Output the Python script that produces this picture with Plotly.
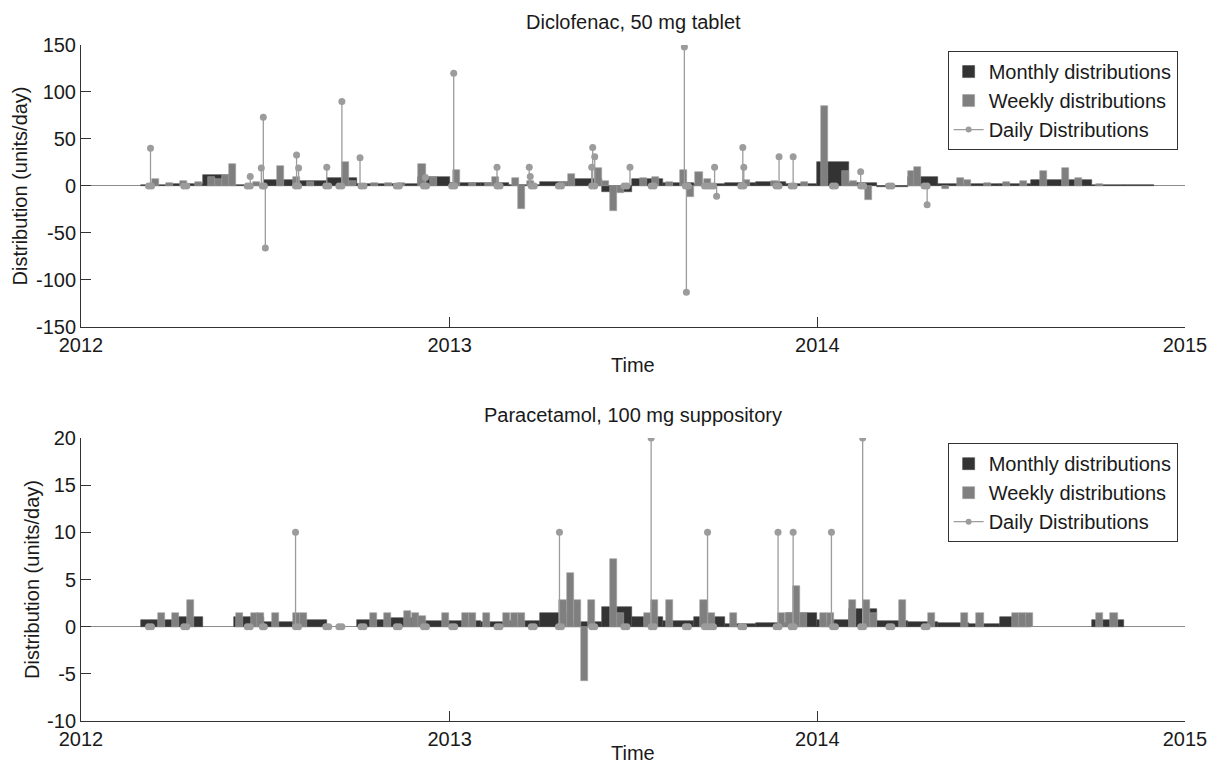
import pandas as pd
import plotly.graph_objects as go

# ---------------- data ----------------
year_ticks = ["2012", "2013", "2014", "2015"]
top_yticks = [-150, -100, -50, 0, 50, 100, 150]
top_ytext = ["-150", "-100", "-50", "0", "50", "100", "150"]
bot_yticks = [-10, -5, 0, 5, 10, 15, 20]
bot_ytext = ["-10", "-5", "0", "5", "10", "15", "20"]

# Diclofenac, 50 mg tablet
dic_month = ["2012-03", "2012-04", "2012-05", "2012-06", "2012-07", "2012-08", "2012-09", "2012-10",
             "2012-11", "2012-12", "2013-01", "2013-02", "2013-03", "2013-04", "2013-05", "2013-06",
             "2013-07", "2013-08", "2013-09", "2013-10", "2013-11", "2013-12", "2014-01", "2014-02",
             "2014-03", "2014-04", "2014-05", "2014-06", "2014-07", "2014-08", "2014-09", "2014-10",
             "2014-11"]
dic_month_val = [1, 2, 12, 1, 6, 5, 8, 2,
                 2, 10, 3, 3, 1, 4, 7, -6,
                 7, 3, 2, 3, 4, 2, 26, 3,
                 -1, 9, 2, 2, 2, 6, 6, 1,
                 0.5]

dic_week = ["2012-03-11", "2012-03-25", "2012-04-08", "2012-04-23", "2012-05-06", "2012-05-13",
            "2012-05-20", "2012-05-27", "2012-06-20", "2012-07-14", "2012-07-29", "2012-08-12",
            "2012-09-16", "2012-09-23", "2012-10-15", "2012-10-29", "2012-11-11", "2012-12-01",
            "2012-12-12", "2013-01-04", "2013-01-20", "2013-02-05", "2013-02-12", "2013-03-04",
            "2013-03-10", "2013-03-19", "2013-04-20", "2013-04-28", "2013-05-25", "2013-06-01",
            "2013-06-09", "2013-06-16", "2013-07-09", "2013-07-21", "2013-08-04", "2013-08-18",
            "2013-08-25", "2013-09-02", "2013-09-10", "2013-10-19", "2013-11-16", "2013-12-16",
            "2014-01-05", "2014-01-25", "2014-02-02", "2014-02-17", "2014-03-10", "2014-04-01",
            "2014-04-07", "2014-05-05", "2014-05-20", "2014-05-27", "2014-06-15", "2014-07-04",
            "2014-07-21", "2014-08-10", "2014-09-01", "2014-09-14", "2014-10-05"]
dic_week_val = [7, 3, 5, 4, 10, 7,
                12, 23, 4, 21, 10, 4,
                25, 5, 3, 3, 3, 23,
                10, 17, 3, 3, 9, 8,
                -25, 5, 4, 13, 19, 5,
                -27, -8, 8, 9, 4, 17,
                -12, 15, 7, 6, 5, 4,
                85, 16, 5, -15, 2, 16,
                20, -3, 8, 6, 3, 4,
                5, 16, 19, 8, 2]

# days with reported daily distributions but zero amount (shared by both products)
zero_days = ["2012-03-08", "2012-03-11", "2012-04-12", "2012-04-15", "2012-06-14", "2012-06-17",
             "2012-06-29", "2012-07-01", "2012-08-01", "2012-08-04", "2012-08-31", "2012-09-03",
             "2012-09-13", "2012-09-16", "2012-10-05", "2012-10-08", "2012-11-09", "2012-11-12",
             "2012-12-06", "2012-12-09", "2013-01-03", "2013-01-06", "2013-02-17", "2013-02-20",
             "2013-03-23", "2013-03-26", "2013-04-19", "2013-04-22", "2013-05-22", "2013-05-25",
             "2013-06-23", "2013-06-26", "2013-07-20", "2013-07-23", "2013-08-23", "2013-08-26",
             "2013-09-11", "2013-09-14", "2013-09-17", "2013-09-20", "2013-10-17", "2013-10-20",
             "2013-11-21", "2013-11-24", "2013-12-06", "2013-12-09", "2014-01-16", "2014-01-19",
             "2014-02-13", "2014-02-16", "2014-03-13", "2014-03-16", "2014-04-17", "2014-04-20"]

dic_day = ["2012-03-10", "2012-06-17", "2012-06-28", "2012-06-30", "2012-07-02", "2012-08-02",
           "2012-08-04", "2012-09-01", "2012-09-16", "2012-10-04", "2012-12-08", "2013-01-05",
           "2013-02-17", "2013-03-21", "2013-03-22", "2013-05-22", "2013-05-23", "2013-05-25",
           "2013-06-29", "2013-08-22", "2013-08-24", "2013-09-21", "2013-09-23", "2013-10-19",
           "2013-10-20", "2013-11-24", "2013-12-08", "2014-02-13", "2014-04-20"]
dic_day_val = [40, 10, 19, 73, -66, 33,
               19, 20, 90, 30, 9, 120,
               20, 20, 10, 20, 41, 31,
               20, 148, -113, 20, -11, 41,
               20, 31, 31, 15, -20]

# Paracetamol, 100 mg suppository
par_month = ["2012-03", "2012-04", "2012-06", "2012-07", "2012-08", "2012-10", "2012-11", "2012-12",
             "2013-01", "2013-02", "2013-03", "2013-04", "2013-05", "2013-06", "2013-07", "2013-08",
             "2013-09", "2013-10", "2013-11", "2013-12", "2014-01", "2014-02", "2014-03", "2014-04",
             "2014-05", "2014-06", "2014-07", "2014-10"]
par_month_val = [0.7, 1.0, 1.0, 0.45, 0.7, 0.7, 0.9, 0.6,
                 0.55, 0.45, 0.6, 1.4, 0.5, 2.1, 1.0, 0.6,
                 1.0, 0.3, 0.35, 1.45, 0.7, 1.9, 0.65, 0.45,
                 0.4, 0.3, 1.0, 0.7]

par_week = ["2012-03-17", "2012-03-31", "2012-04-15", "2012-06-03", "2012-06-18", "2012-06-24",
            "2012-07-09", "2012-07-29", "2012-08-05", "2012-10-14", "2012-10-28", "2012-11-17",
            "2012-11-25", "2012-12-01", "2012-12-24", "2013-01-13", "2013-01-20", "2013-02-03",
            "2013-02-23", "2013-03-03", "2013-03-10", "2013-04-20", "2013-04-27", "2013-05-04",
            "2013-05-11", "2013-05-18", "2013-06-09", "2013-06-16", "2013-07-13", "2013-07-20",
            "2013-08-04", "2013-09-07", "2013-09-14", "2013-10-06", "2013-11-23", "2013-12-01",
            "2013-12-08", "2013-12-15", "2014-01-04", "2014-01-11", "2014-02-01", "2014-02-15",
            "2014-02-22", "2014-03-23", "2014-04-21", "2014-05-24", "2014-06-08", "2014-07-13",
            "2014-07-20", "2014-07-27", "2014-10-05", "2014-10-19"]
par_week_val = [1.43, 1.43, 2.86, 1.43, 1.43, 1.43,
                1.43, 1.43, 1.43, 1.43, 1.43, 1.71,
                1.43, 1.14, 1.43, 1.43, 1.43, 1.43,
                1.43, 1.43, 1.43, 2.86, 5.71, 2.86,
                -5.71, 2.86, 7.14, 1.43, 1.43, 2.86,
                2.86, 2.86, 1.43, 1.43, 1.43, 1.43,
                4.29, 1.43, 1.43, 1.43, 2.86, 2.86,
                1.43, 2.86, 1.43, 1.43, 1.43, 1.43,
                1.43, 1.43, 1.43, 1.43]

par_day = ["2012-08-01", "2013-04-20", "2013-07-20", "2013-09-14", "2013-11-23", "2013-12-08",
           "2014-01-15", "2014-02-15"]
par_day_val = [10, 10, 20, 10, 10, 10,
               10, 20]

titles = ["Diclofenac, 50 mg tablet", "Paracetamol, 100 mg suppository"]
x_title = "Time"
y_title = "Distribution (units/day)"

# ---------------- styling ----------------
FONT = "Liberation Sans, Arial, sans-serif"
FS = 20
TXT = "#1a1a1a"
C_MONTH = "#333333"
C_WEEK = "#7f7f7f"
C_DAY = "#9c9c9c"
AX = "#333333"
WEEK_MS = 7 * 24 * 3600 * 1000
TOP_DOM = [0.583, 1.0]
BOT_DOM = [0.0, 0.4186]

fig = go.Figure()


def add_panel(months, mvals, weeks, wvals, ddays, dvals, xa, ya, leg):
    mstart = pd.to_datetime([m + "-01" for m in months])
    mend = mstart + pd.offsets.MonthBegin(1)
    mwidth = [(e - s).total_seconds() * 1000 for s, e in zip(mstart, mend)]
    fig.add_trace(go.Bar(x=mstart, y=mvals, width=mwidth, offset=0,
                         marker=dict(color=C_MONTH, line=dict(color="#4a4a4a", width=0.6)),
                         name="Monthly distributions", xaxis=xa, yaxis=ya, legend=leg))
    fig.add_trace(go.Bar(x=pd.to_datetime(weeks), y=wvals, width=WEEK_MS, offset=0,
                         marker=dict(color=C_WEEK, line=dict(color="#a0a0a0", width=0.6)),
                         name="Weekly distributions", xaxis=xa, yaxis=ya, legend=leg))
    days = list(ddays) + list(zero_days)
    vals = list(dvals) + [0] * len(zero_days)
    sx, sy = [], []
    for d, v in zip(days, vals):
        sx += [d, d, None]
        sy += [0, v, None]
    fig.add_trace(go.Scatter(x=sx, y=sy, mode="lines", line=dict(color=C_DAY, width=1.3),
                             showlegend=False, hoverinfo="skip", xaxis=xa, yaxis=ya))
    fig.add_trace(go.Scatter(x=days, y=vals, mode="markers",
                             marker=dict(color=C_DAY, size=7), showlegend=False,
                             name="Daily Distributions", xaxis=xa, yaxis=ya))
    # legend entry for the stems (line + marker)
    fig.add_trace(go.Scatter(x=[None], y=[None], mode="lines+markers",
                             line=dict(color=C_DAY, width=1.3), marker=dict(color=C_DAY, size=6),
                             name="Daily Distributions", xaxis=xa, yaxis=ya, legend=leg))


add_panel(dic_month, dic_month_val, dic_week, dic_week_val, dic_day, dic_day_val, "x", "y", "legend")
add_panel(par_month, par_month_val, par_week, par_week_val, par_day, par_day_val, "x2", "y2", "legend2")

tickvals = [y + "-01-01" for y in year_ticks]
xcommon = dict(type="date", range=[tickvals[0], tickvals[-1]], tickvals=tickvals, ticktext=year_ticks,
               showline=True, linecolor=AX, linewidth=1, ticks="inside", ticklen=10, tickcolor=AX,
               showgrid=False, zeroline=False, mirror=False, automargin=False,
               tickfont=dict(size=FS, color=TXT, family=FONT))
ycommon = dict(showline=True, linecolor=AX, linewidth=1, ticks="inside", ticklen=10, tickcolor=AX,
               showgrid=False, zeroline=True, zerolinecolor="#8c8c8c", zerolinewidth=1, automargin=False,
               tickfont=dict(size=FS, color=TXT, family=FONT),
               title=dict(text=y_title, font=dict(size=FS, color=TXT, family=FONT), standoff=2))

legcommon = dict(x=0.785, xanchor="left", yanchor="top", bordercolor="#333", borderwidth=1,
                 bgcolor="white", font=dict(size=FS, family=FONT, color=TXT), tracegroupgap=0,
                 itemwidth=30)

fig.update_layout(
    width=1215, height=765,
    margin=dict(l=81, r=30, t=45, b=44),
    paper_bgcolor="white", plot_bgcolor="white",
    barmode="overlay", bargap=0,
    font=dict(family=FONT, size=FS, color=TXT),
    xaxis=dict(**xcommon, anchor="y"),
    yaxis=dict(**ycommon, domain=TOP_DOM, range=[top_yticks[0], top_yticks[-1]],
               tickvals=top_yticks, ticktext=top_ytext, anchor="x"),
    xaxis2=dict(**xcommon, anchor="y2"),
    yaxis2=dict(**ycommon, domain=BOT_DOM, range=[bot_yticks[0], bot_yticks[-1]],
                tickvals=bot_yticks, ticktext=bot_ytext, anchor="x2"),
    legend=dict(**legcommon, y=0.991),
    legend2=dict(**legcommon, y=0.411),
    showlegend=True,
)

fig.add_annotation(text=titles[0], xref="paper", yref="paper", x=0.5, y=TOP_DOM[1], yshift=10,
                   xanchor="center", yanchor="bottom", showarrow=False,
                   font=dict(size=FS, color=TXT, family=FONT))
fig.add_annotation(text=titles[1], xref="paper", yref="paper", x=0.5, y=BOT_DOM[1], yshift=10,
                   xanchor="center", yanchor="bottom", showarrow=False,
                   font=dict(size=FS, color=TXT, family=FONT))
fig.add_annotation(text=x_title, xref="paper", yref="paper", x=0.5, y=TOP_DOM[0], yshift=-38,
                   xanchor="center", yanchor="middle", showarrow=False,
                   font=dict(size=FS, color=TXT, family=FONT))
fig.add_annotation(text=x_title, xref="paper", yref="paper", x=0.5, y=BOT_DOM[0], yshift=-32,
                   xanchor="center", yanchor="middle", showarrow=False,
                   font=dict(size=FS, color=TXT, family=FONT))

fig.write_html("out.html", config={"displayModeBar": False},
               post_script="document.body.style.margin='0';")
